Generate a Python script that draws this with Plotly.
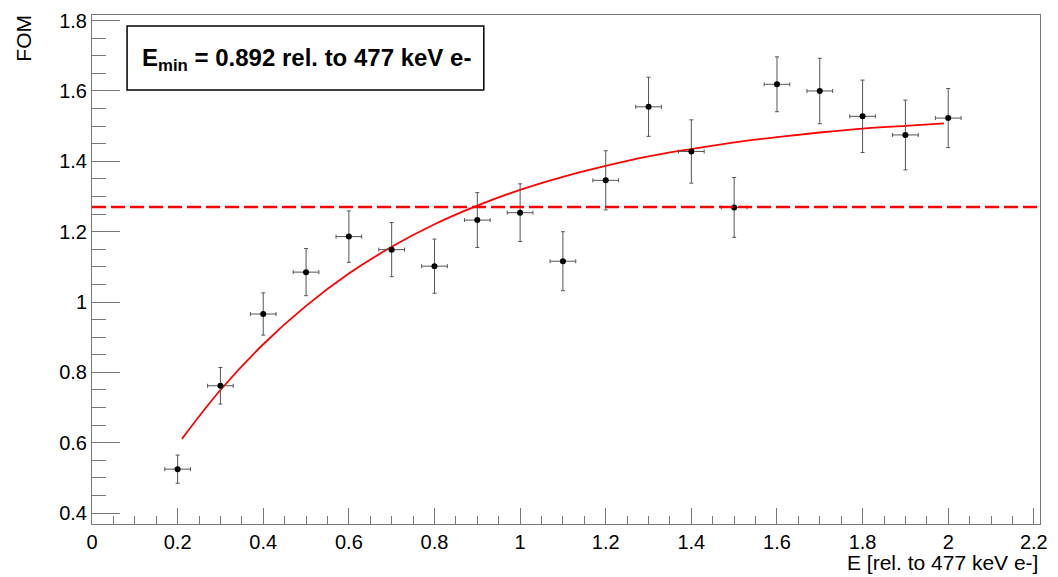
import plotly.graph_objects as go

# ---- data ----
energy = [0.2, 0.3, 0.4, 0.5, 0.6, 0.7, 0.8, 0.9, 1.0, 1.1,
          1.2, 1.3, 1.4, 1.5, 1.6, 1.7, 1.8, 1.9, 2.0]
fom = [0.525, 0.762, 0.966, 1.085, 1.186, 1.149, 1.102, 1.233, 1.254, 1.116,
       1.346, 1.555, 1.428, 1.269, 1.619, 1.600, 1.528, 1.475, 1.523]
fom_err = [0.040, 0.052, 0.060, 0.067, 0.073, 0.077, 0.077, 0.078, 0.082, 0.084,
           0.084, 0.084, 0.090, 0.085, 0.078, 0.093, 0.103, 0.099, 0.084]
energy_err = [0.03] * len(energy)

# fitted curve
fit_x = [0.21, 0.3, 0.4, 0.5, 0.6, 0.7, 0.8, 0.9, 1.0, 1.1,
         1.2, 1.3, 1.4, 1.5, 1.6, 1.7, 1.8, 1.9, 1.99]
fit_y = [0.611, 0.750, 0.880, 0.989, 1.081, 1.157, 1.221, 1.274, 1.319, 1.356,
         1.387, 1.414, 1.435, 1.454, 1.469, 1.482, 1.493, 1.501, 1.508]

fom_threshold = 1.27
label_text = "E<sub>min</sub> = 0.892 rel. to 477 keV e-"
x_title = "E [rel. to 477 keV e-]"
y_title = "FOM"

FONT = "Liberation Sans, Arial, Helvetica, sans-serif"
AXIS_COL = "#777777"

fig = go.Figure()

fig.add_trace(go.Scatter(
    x=fit_x, y=fit_y, mode="lines", line=dict(color="#ff0000", width=1.8, shape="spline"),
    hoverinfo="skip", showlegend=False))

fig.add_trace(go.Scatter(
    x=energy, y=fom, mode="markers",
    marker=dict(color="black", size=6),
    error_y=dict(type="data", array=fom_err, color="#555555", thickness=1, width=2),
    error_x=dict(type="data", array=energy_err, color="#555555", thickness=1, width=2),
    showlegend=False))

fig.add_shape(type="line", xref="paper", x0=0, x1=1, yref="y", y0=fom_threshold, y1=fom_threshold,
              line=dict(color="#ff0000", width=2.4, dash="14px,5px"))

# label box
fig.add_shape(type="rect", xref="paper", yref="paper", x0=0.037, x1=0.4133, y0=0.8528, y1=0.9786,
              line=dict(color="black", width=1.5), fillcolor="white", layer="above")
fig.add_annotation(xref="paper", yref="paper", x=0.226, y=0.913, xanchor="center", yanchor="middle",
                   text="<b>" + label_text + "</b>", showarrow=False,
                   font=dict(family=FONT, size=24, color="black"))

# axis titles
fig.add_annotation(xref="paper", yref="paper", x=1.0, y=-0.075, xanchor="right", yanchor="middle",
                   text=x_title, showarrow=False, font=dict(family=FONT, size=21, color="black"))
fig.add_annotation(xref="paper", yref="paper", x=-0.0726, y=1.004, xanchor="center", yanchor="top",
                   text=y_title, textangle=-90, showarrow=False,
                   font=dict(family=FONT, size=21, color="black"))

fig.update_layout(
    width=1058, height=577,
    margin=dict(l=92, r=13, t=10, b=53),
    paper_bgcolor="white", plot_bgcolor="white",
    font=dict(family=FONT, size=20, color="black"),
    xaxis=dict(range=[0, 2.2144], tickmode="linear", tick0=0, dtick=0.2,
               ticks="inside", ticklen=16, tickcolor=AXIS_COL, tickwidth=1,
               showline=True, linecolor=AXIS_COL, linewidth=1, mirror=True,
               showgrid=False, zeroline=False,
               minor=dict(dtick=0.05, tick0=0, ticks="inside", ticklen=8, tickcolor=AXIS_COL, showgrid=False),
               tickfont=dict(family=FONT, size=20, color="black")),
    yaxis=dict(range=[0.369, 1.816], tickmode="linear", tick0=0.4, dtick=0.2,
               ticks="inside", ticklen=28, tickcolor=AXIS_COL, tickwidth=1,
               showline=True, linecolor=AXIS_COL, linewidth=1, mirror=True,
               showgrid=False, zeroline=False,
               minor=dict(dtick=0.05, tick0=0.4, ticks="inside", ticklen=14, tickcolor=AXIS_COL, showgrid=False),
               tickfont=dict(family=FONT, size=20, color="black")),
)

fig.write_html("out.html", config={"displayModeBar": False},
               post_script="document.body.style.margin='0';document.body.style.overflow='hidden';")
